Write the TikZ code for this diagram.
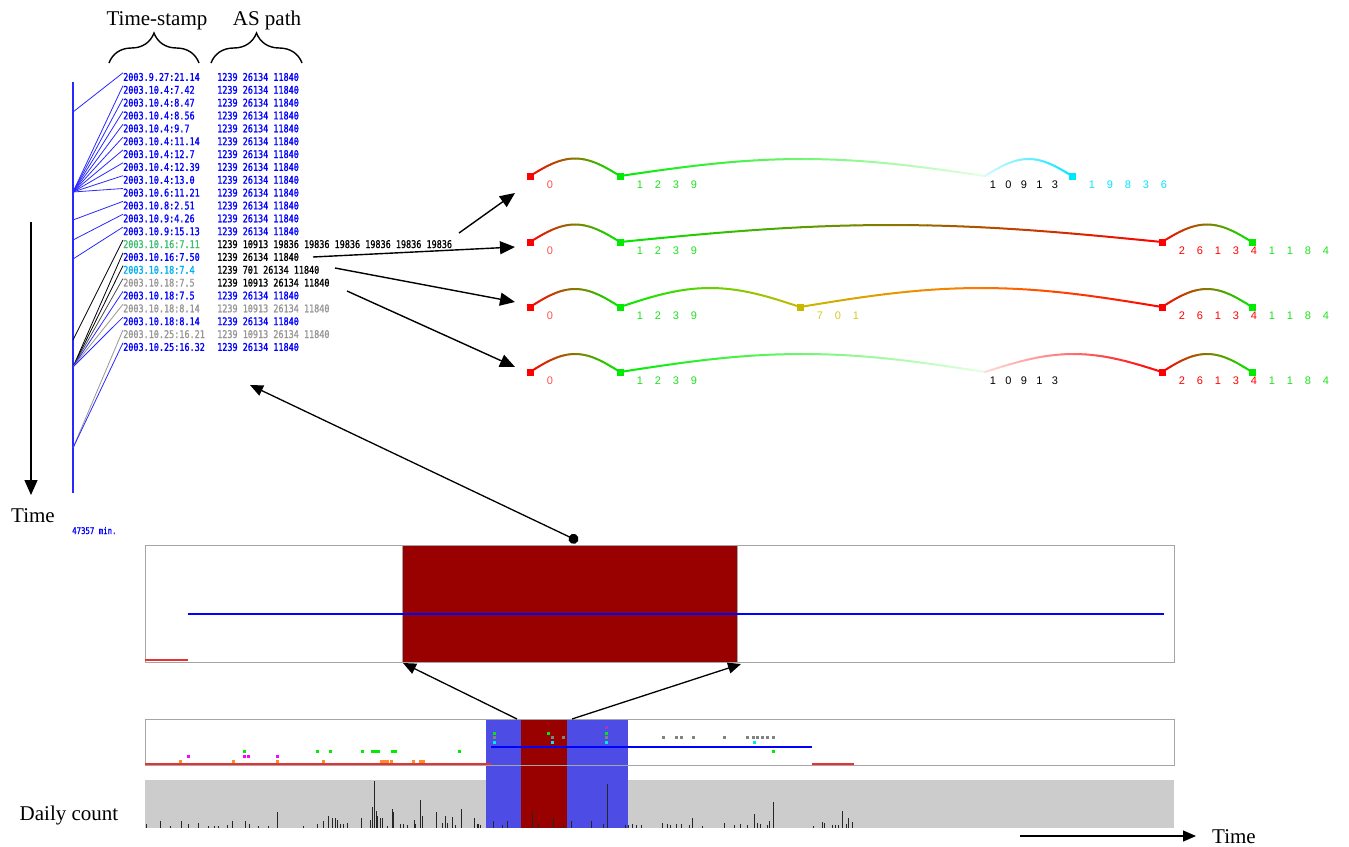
\documentclass[tikz,border=0pt]{standalone}
\usepackage{fontspec}
\setmainfont{Liberation Serif}
\newfontfamily\tsfont[FakeStretch=0.8,FakeBold=1.2]{DejaVu Sans Mono}
\newfontfamily\lblfont{Liberation Sans}
\usetikzlibrary{arrows.meta,decorations.pathreplacing}
\definecolor{rd}{RGB}{255,0,0}
\definecolor{gn}{RGB}{0,235,0}
\definecolor{olv}{RGB}{135,120,0}
\definecolor{lgn}{RGB}{230,255,230}
\colorlet{gnm}{gn!50!lgn}
\definecolor{lpk}{RGB}{255,220,220}
\colorlet{pkm}{rd!50!lpk}
\definecolor{cy}{RGB}{0,230,255}
\definecolor{lcy}{RGB}{215,250,255}
\colorlet{cym}{cy!50!lcy}
\definecolor{ylw}{RGB}{200,185,0}
\colorlet{gy}{gn!50!ylw}
\definecolor{org}{RGB}{255,120,0}
\definecolor{tsgreen}{RGB}{60,190,110}
\definecolor{tsgray}{RGB}{150,150,150}
\definecolor{lbred}{RGB}{255,80,80}
\definecolor{lbgreen}{RGB}{30,225,30}
\definecolor{lbyel}{RGB}{215,200,40}
\definecolor{boxgray}{RGB}{165,165,165}
\definecolor{darkred}{RGB}{153,0,0}
\definecolor{bandblue}{RGB}{77,77,230}
\definecolor{histgray}{RGB}{204,204,204}
\definecolor{dotorange}{RGB}{255,140,40}
\definecolor{dotmag}{RGB}{255,0,255}
\definecolor{dotgray}{RGB}{130,130,130}
\definecolor{dotpurple}{RGB}{150,60,200}
\definecolor{lowred}{RGB}{230,50,50}
\definecolor{treeblue}{RGB}{40,40,255}
\newcommand\garc[7]{%
  \foreach \i in {1,...,30}{%
    \pgfmathsetmacro\ta{(\i-1)/30}%
    \pgfmathsetmacro\tb{\i/30}%
    \ifnum\i<16
      \pgfmathtruncatemacro\w{200*(\i-0.5)/30}%
      \def\cc{#6!\w!#5}%
    \else
      \pgfmathtruncatemacro\w{200*(\i-15.5)/30}%
      \def\cc{#7!\w!#6}%
    \fi
    \draw[arcline,draw=\cc] ({#1+(#2-#1)*\ta},{#3-#4*sin(180*\ta)}) -- ({#1+(#2-#1)*\tb},{#3-#4*sin(180*\tb)});
  }}
\newcommand\digs[6]{%
  \foreach \d [count=\k from 0] in {#6}{%
    \node[lbl,text=#5] (#1-\k) at ({#2+#4*\k},#3) {\d};
  }}
\begin{document}
\begin{tikzpicture}[x=1pt,y=-1pt,
  ts/.style={font=\tsfont\fontsize{10.6}{12}\selectfont,anchor=west,inner sep=0pt},
  hdr/.style={font=\fontsize{21}{24}\selectfont,anchor=base,inner sep=0pt},
  lbl/.style={font=\lblfont\fontsize{11}{12}\selectfont,inner sep=0pt},
  arcline/.style={line width=2pt,line cap=round},
  sq/.style={rectangle,minimum size=7pt,inner sep=0pt,draw=none},
  tree/.style={line width=0.8pt},
  bigarrow/.style={line width=1.4pt,-{Triangle[length=15pt,width=13pt]}},
  midarrow/.style={line width=1.3pt,-{Triangle[length=13pt,width=11pt]}},
  brc/.style={decorate,decoration={brace,amplitude=30pt},line width=1.4pt},
  dot/.style={rectangle,minimum size=3pt,inner sep=0pt,draw=none}
]
\useasboundingbox (0,0) rectangle (1349,846);

% headers and braces
\node[hdr] (hts) at (157,25) {Time-stamp};
\node[hdr] (has) at (267,25) {AS path};
\draw[brc] (109,63) -- (199,63);
\draw[brc] (211,63) -- (302,63);

% list
\foreach \t/\a/\tc/\ac [count=\i] in {
 2003.9.27:21.14/1239 26134 11840/blue/blue,
 2003.10.4:7.42/1239 26134 11840/blue/blue,
 2003.10.4:8.47/1239 26134 11840/blue/blue,
 2003.10.4:8.56/1239 26134 11840/blue/blue,
 2003.10.4:9.7/1239 26134 11840/blue/blue,
 2003.10.4:11.14/1239 26134 11840/blue/blue,
 2003.10.4:12.7/1239 26134 11840/blue/blue,
 2003.10.4:12.39/1239 26134 11840/blue/blue,
 2003.10.4:13.0/1239 26134 11840/blue/blue,
 2003.10.6:11.21/1239 26134 11840/blue/blue,
 2003.10.8:2.51/1239 26134 11840/blue/blue,
 2003.10.9:4.26/1239 26134 11840/blue/blue,
 2003.10.9:15.13/1239 26134 11840/blue/blue,
 2003.10.16:7.11/1239 10913 19836 19836 19836 19836 19836 19836/tsgreen/black,
 2003.10.16:7.50/1239 26134 11840/blue/black,
 2003.10.18:7.4/1239 701 26134 11840/cyan/black,
 2003.10.18:7.5/1239 10913 26134 11840/tsgray/black,
 2003.10.18:7.5/1239 26134 11840/blue/blue,
 2003.10.18:8.14/1239 10913 26134 11840/tsgray/tsgray,
 2003.10.18:8.14/1239 26134 11840/blue/blue,
 2003.10.25:16.21/1239 10913 26134 11840/tsgray/tsgray,
 2003.10.25:16.32/1239 26134 11840/blue/blue}{
  \node[ts,text=\tc] (ts\i) at (123,{77+12.857*(\i-1)}) {\t};
  \node[ts,text=\ac] (as\i) at (217,{77+12.857*(\i-1)}) {\a};
}

% tree
\coordinate (vtop) at (73,82);
\coordinate (vbot) at (73,493);
\coordinate (j1) at (73,112);
\coordinate (j2) at (73,192);
\coordinate (j3) at (73,220);
\coordinate (j4) at (73,240);
\coordinate (j5) at (73,259);
\coordinate (j6) at (73,340);
\coordinate (j7) at (73,367);
\coordinate (j8) at (73,448);
\draw[treeblue,line width=1.1pt] (vtop) -- (vbot);
\foreach \i/\j/\c in {1/j1/treeblue,2/j2/treeblue,3/j2/treeblue,4/j2/treeblue,5/j2/treeblue,6/j2/treeblue,7/j2/treeblue,8/j2/treeblue,9/j2/treeblue,10/j2/treeblue,
  11/j3/treeblue,12/j4/treeblue,13/j5/treeblue,14/j6/black,15/j7/black,16/j7/black,17/j7/black!70,18/j7/treeblue,19/j7/tsgray,20/j7/treeblue,21/j8/tsgray,22/j8/treeblue}{
  \draw[tree,draw=\c] (\j) -- (ts\i.north west);
}
\node[font=\tsfont\fontsize{9.2}{10}\selectfont,text=blue,anchor=base west,inner sep=0pt] (mins) at (72,534) {47357 min.};

% time arrow left
\coordinate (tl1) at (31,222);
\coordinate (tl2) at (31,495);
\draw[bigarrow] (tl1) -- (tl2);
\node[hdr] (tleft) at (33,522) {Time};

% arrows to arcs
\coordinate (a1s) at (459,233); \coordinate (a1e) at (515,193);
\coordinate (a2s) at (313,257); \coordinate (a2e) at (515,247);
\coordinate (a3s) at (335,268); \coordinate (a3e) at (515,302);
\coordinate (a4s) at (347,291); \coordinate (a4e) at (515,367);
\draw[bigarrow] (a1s) -- (a1e);
\draw[bigarrow] (a2s) -- (a2e);
\draw[bigarrow] (a3s) -- (a3e);
\draw[bigarrow] (a4s) -- (a4e);

% arcs row 1
\garc{530}{620}{176}{17.5}{rd}{olv}{gn}
\garc{620}{985}{176}{17}{gn}{gnm}{lgn}
\garc{985}{1072}{176}{17}{lcy}{cym}{cy}
\node[sq,fill=rd] (s1a) at (530,176) {};
\node[sq,fill=gn] (s1b) at (620,176) {};
\node[sq,fill=cy] (s1c) at (1072,176) {};
\digs{l1a}{550}{185}{18}{lbred}{0}
\digs{l1b}{640}{185}{18}{lbgreen}{1,2,3,9}
\digs{l1c}{993}{185}{15.5}{black}{1,0,9,1,3}
\digs{l1d}{1092}{185}{18}{cy}{1,9,8,3,6}

% arcs row 2
\garc{530}{620}{242}{17.5}{rd}{olv}{gn}
\garc{620}{1162}{242}{17}{gn}{olv}{rd}
\garc{1162}{1252}{242}{17.5}{rd}{olv}{gn}
\node[sq,fill=rd] (s2a) at (530,242) {};
\node[sq,fill=gn] (s2b) at (620,242) {};
\node[sq,fill=rd] (s2c) at (1162,242) {};
\node[sq,fill=gn] (s2d) at (1252,242) {};
\digs{l2a}{550}{251}{18}{lbred}{0}
\digs{l2b}{640}{251}{18}{lbgreen}{1,2,3,9}
\digs{l2c}{1182}{251}{18}{rd}{2,6,1,3,4}
\digs{l2d}{1272}{251}{18}{lbgreen}{1,1,8,4}

% arcs row 3
\garc{530}{620}{307}{18}{rd}{olv}{gn}
\garc{620}{800}{307}{19}{gn}{gy}{ylw}
\garc{800}{1162}{307}{19}{ylw}{org}{rd}
\garc{1162}{1252}{307}{18}{rd}{olv}{gn}
\node[sq,fill=rd] (s3a) at (530,307) {};
\node[sq,fill=gn] (s3b) at (620,307) {};
\node[sq,fill=ylw] (s3c) at (800,307) {};
\node[sq,fill=rd] (s3d) at (1162,307) {};
\node[sq,fill=gn] (s3e) at (1252,307) {};
\digs{l3a}{550}{316}{18}{lbred}{0}
\digs{l3b}{640}{316}{18}{lbgreen}{1,2,3,9}
\digs{l3c}{820}{316}{18}{lbyel}{7,0,1}
\digs{l3d}{1182}{316}{18}{rd}{2,6,1,3,4}
\digs{l3e}{1272}{316}{18}{lbgreen}{1,1,8,4}

% arcs row 4
\garc{530}{620}{372}{18}{rd}{olv}{gn}
\garc{620}{985}{372}{18}{gn}{gnm}{lgn}
\garc{985}{1162}{372}{18}{lpk}{pkm}{rd}
\garc{1162}{1252}{372}{18}{rd}{olv}{gn}
\node[sq,fill=rd] (s4a) at (530,372) {};
\node[sq,fill=gn] (s4b) at (620,372) {};
\node[sq,fill=rd] (s4c) at (1162,372) {};
\node[sq,fill=gn] (s4d) at (1252,372) {};
\digs{l4a}{550}{381}{18}{lbred}{0}
\digs{l4b}{640}{381}{18}{lbgreen}{1,2,3,9}
\digs{l4c}{993}{381}{15.5}{black}{1,0,9,1,3}
\digs{l4d}{1182}{381}{18}{rd}{2,6,1,3,4}
\digs{l4e}{1272}{381}{18}{lbgreen}{1,1,8,4}

% top box
\node[draw=boxgray,line width=1.3pt,fill=white,anchor=north west,minimum width=1029pt,minimum height=117pt,inner sep=0pt] (topbox) at (145,545) {};
\node[draw=boxgray,line width=1pt,fill=darkred,anchor=north west,minimum width=335pt,minimum height=117pt,inner sep=0pt] (topred) at (402,545) {};
\coordinate (bl1) at (188,614); \coordinate (bl2) at (1164,614);
\draw[blue,line width=2.5pt] (bl1) -- (bl2);
\coordinate (rl1) at (145,660); \coordinate (rl2) at (188,660);
\draw[lowred,line width=2pt] (rl1) -- (rl2);

% link arrow list <-> box
\coordinate (bA) at (250,385); \coordinate (bB) at (578,541);
\draw[line width=1.3pt,{Triangle[length=13pt,width=11pt]}-{Circle[length=10pt]}] (bA) -- (bB);

% bottom panel
\node[fill=histgray,anchor=north west,minimum width=1029pt,minimum height=48pt,inner sep=0pt] (hist) at (145,780) {};
\node[fill=bandblue,anchor=north west,minimum width=142pt,minimum height=109pt,inner sep=0pt] (bandb) at (486,719) {};
\node[fill=darkred,anchor=north west,minimum width=46pt,minimum height=109pt,inner sep=0pt] (bandr) at (521,719) {};
\node[draw=boxgray,line width=1.3pt,anchor=north west,minimum width=1029pt,minimum height=46pt,inner sep=0pt] (lowbox) at (145,719) {};
\coordinate (lb1) at (491,747); \coordinate (lb2) at (812,747);
\draw[blue,line width=2.5pt] (lb1) -- (lb2);
\coordinate (lr1) at (145,764); \coordinate (lr2) at (491,764);
\coordinate (lr3) at (812,764); \coordinate (lr4) at (854,764);
\draw[lowred,line width=1.8pt] (lr1) -- (lr2);
\draw[lowred,line width=1.8pt] (lr3) -- (lr4);

% dots
\foreach \x/\y/\c [count=\n] in {
 180/761/dotorange,233/761/dotorange,277/761/dotorange,323/761/dotorange,381/761/dotorange,384/761/dotorange,387/761/dotorange,391/761/dotorange,413/761/dotorange,420/761/dotorange,423/761/dotorange,
 188/756/dotmag,244/756/dotmag,248/756/dotmag,277/756/dotmag,
 244/751/gn,317/751/gn,330/751/gn,362/751/gn,372/751/gn,375/751/gn,378/751/gn,392/751/gn,395/751/gn,459/751/gn,773/751/gn,
 494/733/gn,548/733/gn,606/733/gn,
 494/737/dotgray,552/737/dotgray,563/737/dotgray,606/737/dotgray,
 494/742/cy,552/742/cy,606/742/cy,754/742/cy,
 606/727/dotpurple,
 663/737/dotgray,676/737/dotgray,681/737/dotgray,693/737/dotgray,724/737/dotgray,747/737/dotgray,753/737/dotgray,757/737/dotgray,762/737/dotgray,767/737/dotgray,773/737/dotgray}{
  \node[dot,fill=\c] (dt\n) at (\x,\y) {};
}

% histogram bars
\foreach \x/\t [count=\n] in {146/824,160/821,170/826,181/821,188/824,198/823,208/826,214/826,218/826,227/825,232/821,245/821,249/824,258/826,268/826,277/812,303/826,317/824,323/821,328/816,332/818,335/818,337/820,340/824,343/824,347/823,361/818,370/820,372/807,374/781,376/811,377/816,380/818,382/818,387/826,392/809,393/812,400/824,403/824,407/825,414/820,415/824,420/800,422/816,436/812,442/823,445/816,447/823,452/817,455/825,461/809,474/818,477/824,478/824,480/825,493/821,502/825,507/821,532/812,538/824,553/818,563/825,571/821,591/821,603/824,607/784,625/825,628/825,632/824,636/825,641/825,662/823,667/824,670/825,676/824,681/824,689/825,692/818,702/826,724/823,734/825,740/824,747/825,754/814,757/823,760/824,767/825,769/821,773/802,813/826,822/822,824/823,832/825,835/825,838/825,842/811,846/824,848/818,852/822}{
  \coordinate (hb\n) at (\x,828);
  \coordinate (ht\n) at (\x,\t);
  \draw[black!85,line width=0.9pt] (hb\n) -- (ht\n);
}

% zoom arrows
\coordinate (z1s) at (517,719); \coordinate (z1e) at (403,663);
\coordinate (z2s) at (572,719); \coordinate (z2e) at (741,664);
\draw[midarrow] (z1s) -- (z1e);
\draw[midarrow] (z2s) -- (z2e);

% labels bottom
\node[hdr] (daily) at (69,820) {Daily count};
\coordinate (tb1) at (1020,836); \coordinate (tb2) at (1196,836);
\draw[midarrow] (tb1) -- (tb2);
\node[hdr] (tright) at (1234,843) {Time};
\end{tikzpicture}
\end{document}
